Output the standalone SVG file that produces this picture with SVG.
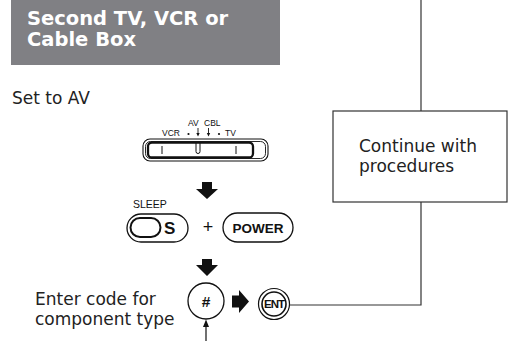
<svg xmlns="http://www.w3.org/2000/svg" width="508" height="341" viewBox="0 0 508 341">
<style>
.ln{fill:none;stroke:#333;stroke-width:1.2}
.blk{fill:#111}
.body{font-family:"DejaVu Sans",sans-serif;font-size:17px;fill:#222}
.sm{font-family:"Liberation Sans",Arial,sans-serif;fill:#111}
.btn{fill:#fff;stroke:#111;stroke-width:1.3}
</style>
<g id="title">
<rect x="11" y="0" width="269" height="65" fill="#808084"/>
<text x="27" y="25" font-family="DejaVu Sans, sans-serif" font-weight="bold" font-size="19.5" fill="#fff">Second TV, VCR or</text>
<text x="27" y="46" font-family="DejaVu Sans, sans-serif" font-weight="bold" font-size="19.5" fill="#fff">Cable Box</text>
</g>
<g id="set-av">
<text class="body" x="12" y="104">Set to AV</text>
</g>
<g id="switch">
<text class="sm" x="162" y="136" font-size="8.5">VCR</text>
<text class="sm" x="188" y="126" font-size="8.5">AV</text>
<text class="sm" x="204" y="126" font-size="8.5">CBL</text>
<text class="sm" x="225" y="136" font-size="8.5">TV</text>
<circle cx="188.5" cy="134" r="1.1" class="blk"/>
<circle cx="219" cy="134" r="1.1" class="blk"/>
<line x1="198" y1="128" x2="198" y2="134" stroke="#111" stroke-width="0.9"/>
<polygon points="198,136.5 196.3,133 199.7,133" class="blk"/>
<line x1="208.5" y1="128" x2="208.5" y2="134" stroke="#111" stroke-width="0.9"/>
<polygon points="208.5,136.5 206.8,133 210.2,133" class="blk"/>
<rect x="143" y="139" width="125" height="22" rx="7" fill="#fff" stroke="#111" stroke-width="1.1"/>
<rect x="145.5" y="141.5" width="120" height="17" rx="5" fill="none" stroke="#111" stroke-width="0.9"/>
<rect x="148" y="142.5" width="105" height="15" rx="4" fill="none" stroke="#111" stroke-width="2.3"/>
<line x1="162" y1="146" x2="162" y2="154" stroke="#111" stroke-width="1"/>
<line x1="236" y1="146" x2="236" y2="154" stroke="#111" stroke-width="1"/>
<path d="M196,143 V151.5 a2,2 0 0 0 4,0 V143" fill="none" stroke="#111" stroke-width="1"/>
</g>
<g id="arrow1">
<polygon points="202,182 212,182 212,189 218,189 207,199 196,189 202,189" class="blk"/>
</g>
<g id="sleep">
<text class="sm" x="133" y="208" font-size="10.5">SLEEP</text>
<rect x="127" y="214" width="61" height="28" rx="14" class="btn"/>
<rect x="130.5" y="218" width="30" height="19" rx="9.5" fill="none" stroke="#111" stroke-width="2"/>
<text class="sm" x="164" y="234" font-size="17" font-weight="bold">S</text>
</g>
<g id="plus">
<text class="sm" x="208" y="233" font-size="18" text-anchor="middle">+</text>
</g>
<g id="power">
<rect x="223" y="213" width="70" height="29" rx="14.5" class="btn"/>
<text class="sm" x="258" y="233" font-size="13.5" font-weight="bold" text-anchor="middle">POWER</text>
</g>
<g id="arrow2">
<polygon points="202,259 212,259 212,265 218,265 207,276 196,265 202,265" class="blk"/>
</g>
<g id="enter-code">
<text class="body" x="35" y="305">Enter code for</text>
<text class="body" x="35" y="325">component type</text>
</g>
<g id="hash">
<circle cx="206" cy="301" r="18" class="btn" stroke-width="1.5"/>
<text class="sm" x="206" y="306.5" font-size="15.5" font-weight="bold" text-anchor="middle">#</text>
</g>
<g id="arrow3">
<polygon points="232,295.5 239,295.5 239,290 249,301.5 239,313 239,307.5 232,307.5" class="blk"/>
</g>
<g id="ent">
<circle cx="274" cy="304" r="15.5" fill="#fff" stroke="#111" stroke-width="1.2"/>
<circle cx="274" cy="304" r="12" fill="none" stroke="#111" stroke-width="1.6"/>
<text class="sm" x="274" y="308" font-size="11.5" font-weight="bold" text-anchor="middle" letter-spacing="-1">ENT</text>
</g>
<g id="continue">
<rect x="333" y="111" width="174" height="91" fill="#fff" class="ln"/>
<text class="body" x="359" y="152">Continue with</text>
<text class="body" x="359" y="172">procedures</text>
</g>
<g id="connectors">
<line x1="421" y1="0" x2="421" y2="111" class="ln"/>
<polyline points="289.5,305 421,305 421,202" class="ln"/>
<line x1="206" y1="341" x2="206" y2="324" stroke="#111" stroke-width="1.2"/>
<polygon points="206,319.5 203,327 209,327" class="blk"/>
</g>
</svg>
